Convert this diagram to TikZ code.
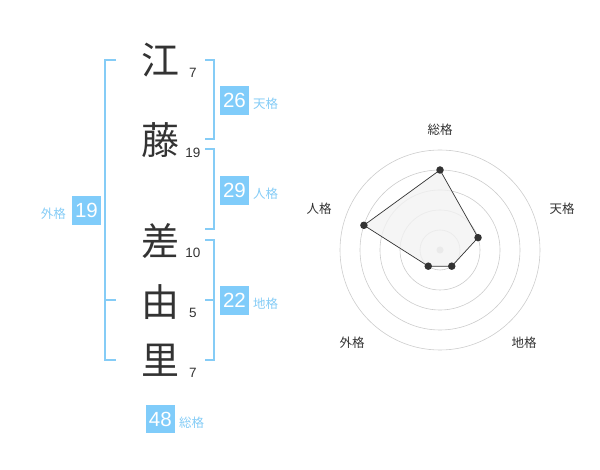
\documentclass[tikz,border=0pt]{standalone}
\usepackage{fontspec}
\setmainfont{Liberation Sans}
\newfontfamily\cjk{Noto Sans CJK JP}
\begin{document}
\begin{tikzpicture}[x=1pt,y=-1pt,
  brk/.style={draw=brkblue,line width=1.8pt},
  kanji/.style={font=\cjk\fontsize{38}{38}\selectfont,text=txtdark,inner sep=0},
  stroke/.style={font=\fontsize{13.5}{13.5}\selectfont,text=txtdark,inner sep=0},
  numbox/.style={fill=boxblue,text=white,minimum width=28.5pt,minimum height=28.5pt,inner sep=0,font=\fontsize{20.5}{20.5}\selectfont},
  klabel/.style={font=\cjk\fontsize{12.5}{12.5}\selectfont,text=lblblue,inner sep=0},
  rlabel/.style={font=\cjk\fontsize{12.5}{12.5}\selectfont,text=txtdark,inner sep=0},
  ring/.style={draw=ringgray,line width=0.6pt},
  dot/.style={circle,fill=txtdark,inner sep=0,minimum size=7.5pt}]
\definecolor{brkblue}{HTML}{85CCF6}
\definecolor{boxblue}{HTML}{80CCFA}
\definecolor{lblblue}{HTML}{85CCF6}
\definecolor{txtdark}{HTML}{333333}
\definecolor{ringgray}{HTML}{CCCCCC}
\definecolor{polyfill}{HTML}{F2F2F2}
\useasboundingbox (0,0) rectangle (600,470);
% kanji
\node[kanji] (k1) at (160,60) {江};
\node[kanji] (k2) at (160,140) {藤};
\node[kanji] (k3) at (160,241) {差};
\node[kanji] (k4) at (160,302) {由};
\node[kanji] (k5) at (160,360) {里};
\node[stroke] (s1) at (193,72.5) {7};
\node[stroke] (s2) at (193,152.5) {19};
\node[stroke] (s3) at (193,252.5) {10};
\node[stroke] (s4) at (193,313) {5};
\node[stroke] (s5) at (193,372.5) {7};
% brackets
\coordinate (ga) at (116,60);
\coordinate (gb) at (116,360);
\draw[brk] (ga) -- (105,60) -- (105,360) -- (gb);
\coordinate (gm) at (105,300);
\draw[brk] (gm) -- (116,300);
\coordinate (ta) at (205,60);
\coordinate (tb) at (205,139);
\draw[brk] (ta) -- (214,60) -- (214,139) -- (tb);
\coordinate (ja) at (205,149);
\coordinate (jb) at (205,229);
\draw[brk] (ja) -- (214,149) -- (214,229) -- (jb);
\coordinate (ca) at (205,240);
\coordinate (cb) at (205,360);
\draw[brk] (ca) -- (214,240) -- (214,360) -- (cb);
\coordinate (cm) at (214,300);
\draw[brk] (cm) -- (205,300);
% boxes
\node[numbox] (b1) at (234.5,100.3) {26};
\node[klabel,anchor=west] (l1) at (253,104) {天格};
\node[numbox] (b2) at (234.5,190.3) {29};
\node[klabel,anchor=west] (l2) at (253,194) {人格};
\node[numbox] (b3) at (86.5,210.3) {19};
\node[klabel,anchor=east] (l3) at (66,214) {外格};
\node[numbox] (b4) at (234.5,300.3) {22};
\node[klabel,anchor=west] (l4) at (253,304) {地格};
\node[numbox] (b5) at (160.3,419.2) {48};
\node[klabel,anchor=west] (l5) at (179,422.7) {総格};
% radar
\coordinate (c) at (440,250);
\foreach \r in {20,40,60,80,100} \draw[ring] (c) circle[radius=\r];
\fill[ringgray] (c) circle[radius=3.5];
\coordinate (p1) at (440,170);
\coordinate (p2) at (478.04,237.64);
\coordinate (p3) at (451.76,266.18);
\coordinate (p4) at (428.24,266.18);
\coordinate (p5) at (363.91,225.28);
\filldraw[fill=polyfill,fill opacity=0.8,draw=txtdark,line width=0.7pt] (p1) -- (p2) -- (p3) -- (p4) -- (p5) -- cycle;
\foreach \p in {p1,p2,p3,p4,p5} \node[dot] at (\p) {};
\node[rlabel] (r1) at (440,130) {総格};
\node[rlabel] (r2) at (562,208.5) {天格};
\node[rlabel] (r3) at (319,208.5) {人格};
\node[rlabel] (r4) at (352,342.5) {外格};
\node[rlabel] (r5) at (524,342.5) {地格};
\end{tikzpicture}
\end{document}
